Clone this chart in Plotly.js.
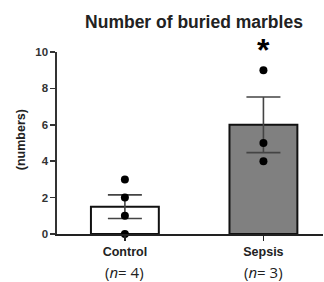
<!DOCTYPE html>
<html><head><meta charset="utf-8">
<script src="https://cdn.plot.ly/plotly-3.0.1.min.js"></script>
<style>html,body{margin:0;padding:0;background:#fff}#chart{width:324px;height:282px}</style>
</head><body><div id="chart"></div>
<script>
const groups = ["Control", "Sepsis"];
const groupLabels = ["<b>Control</b>", "<b>Sepsis</b>"];
const nLabels = ["(<i>n</i>= 4)", "(<i>n</i>= 3)"];
const means = [1.5, 6.0];
const sems = [0.65, 1.53];
const barColors = ["#ffffff", "#808080"];
const pointGroups = ["Control", "Control", "Control", "Control", "Sepsis", "Sepsis", "Sepsis"];
const pointValues = [0, 1, 2, 3, 4, 5, 9];
const yTicks = [0, 2, 4, 6, 8, 10];
const sigMark = "*";
const sigGroup = "Sepsis";

const traces = [
  {
    type: "bar", x: groups, y: means, width: 0.49,
    marker: {color: barColors, line: {color: "#111", width: 2}},
    error_y: {type: "data", array: sems, visible: true, color: "#444", thickness: 1.6, width: 17},
    hoverinfo: "none"
  },
  {
    type: "scatter", mode: "markers", x: pointGroups, y: pointValues,
    marker: {color: "#000", size: 8}, cliponaxis: false, hoverinfo: "none"
  }
];

const annotations = groups.map((g, i) => ({
  x: g, xref: "x", y: -0.209, yref: "paper", text: nLabels[i], showarrow: false,
  xanchor: "center", yanchor: "middle",
  font: {family: "Open Sans", size: 15, color: "#222"}
}));
annotations.push({
  x: sigGroup, xref: "x", y: 1.0, yref: "paper", text: "<b>" + sigMark + "</b>", showarrow: false,
  xanchor: "center", yanchor: "middle", yshift: 2,
  font: {family: "Liberation Sans", size: 32, color: "#000"}
});
annotations.push({
  x: -0.135, xref: "paper", y: 0.516, yref: "paper", text: "<b>(numbers)</b>", showarrow: false,
  textangle: -90, xanchor: "center", yanchor: "middle",
  font: {family: "Liberation Sans", size: 12.5, color: "#222"}
});

const layout = {
  width: 324, height: 282,
  margin: {l: 57, r: 1, t: 52, b: 48, pad: 0},
  paper_bgcolor: "#fff", plot_bgcolor: "#fff",
  showlegend: false,
  title: {
    text: "<b>Number of buried marbles</b>",
    x: 0.515, xref: "paper", xanchor: "center",
    y: 1 - 22 / 282, yref: "container", yanchor: "middle",
    font: {family: "Liberation Sans", size: 17.5, color: "#222"}
  },
  xaxis: {
    type: "category", range: [-0.49, 1.43],
    tickvals: groups, ticktext: groupLabels,
    showline: true, linecolor: "#222", linewidth: 1.6,
    ticks: "outside", ticklen: 5, tickwidth: 1.5, tickcolor: "#222",
    showgrid: false, zeroline: false,
    tickfont: {family: "Liberation Sans", size: 12.5, color: "#222"}
  },
  yaxis: {
    range: [0, 10], tickvals: yTicks, ticktext: yTicks.map(v => "<b>" + v + "</b>"),
    showline: true, linecolor: "#333", linewidth: 1.6,
    ticks: "outside", ticklen: 5, tickwidth: 1.5, tickcolor: "#333",
    showgrid: false, zeroline: false,
    tickfont: {family: "Liberation Sans", size: 11.5, color: "#333"}
  },
  annotations: annotations
};

Plotly.newPlot("chart", traces, layout, {staticPlot: true, displayModeBar: false});
</script></body></html>
